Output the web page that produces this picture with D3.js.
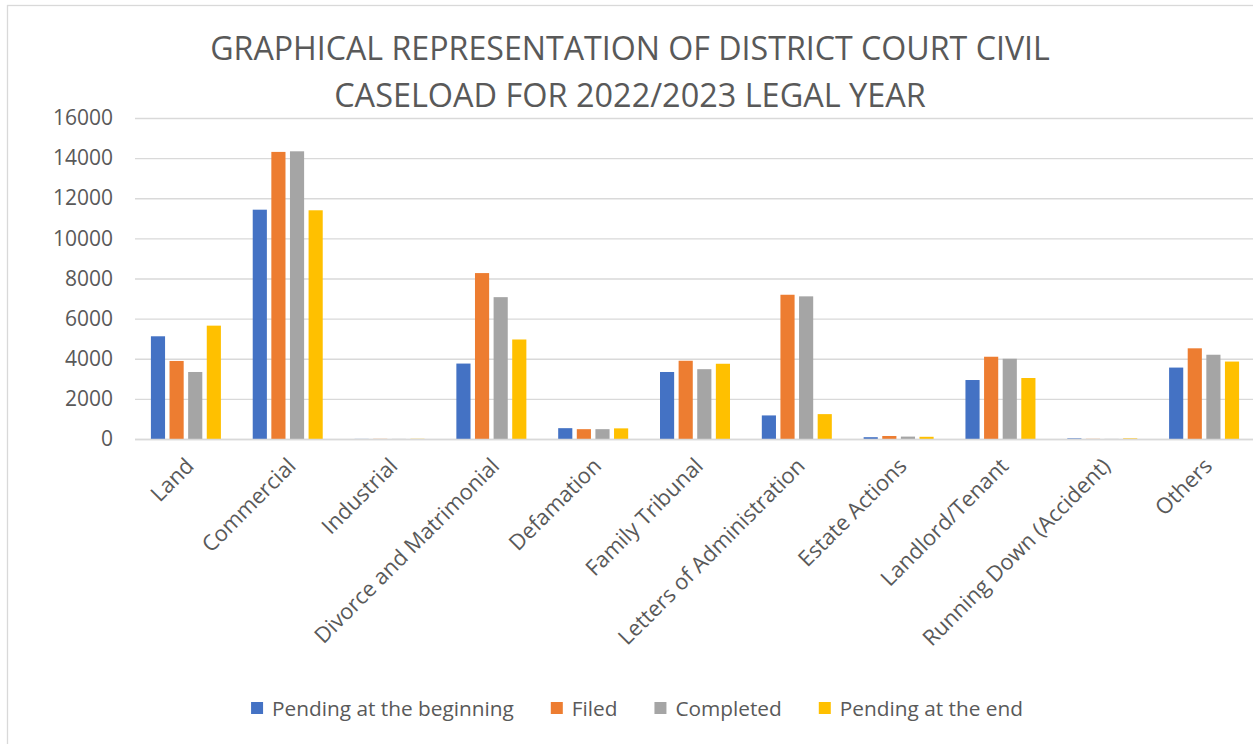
<!DOCTYPE html>
<html>
<head>
<meta charset="utf-8">
<script src="https://cdn.jsdelivr.net/npm/d3@7"></script>
<style>
  body { margin: 0; background: #fff; }
  svg { display: block; }
  text { font-family: "Open Sans", "Noto Sans", sans-serif; fill: #595959; }
</style>
</head>
<body>
<svg id="chart" width="1253" height="744"></svg>
<script>
// categories and series
const categories = ["Land", "Commercial", "Industrial", "Divorce and Matrimonial", "Defamation",
  "Family Tribunal", "Letters of Administration", "Estate Actions", "Landlord/Tenant",
  "Running Down (Accident)", "Others"];
const seriesNames = ["Pending at the beginning", "Filed", "Completed", "Pending at the end"];
const pendingStart = [5120, 11430, 5, 3760, 540, 3340, 1175, 90, 2940, 30, 3560];
const filed        = [3890, 14310, 8, 8270, 490, 3900, 7190, 150, 4100, 8, 4520];
const completed    = [3340, 14340, 5, 7070, 490, 3480, 7110, 120, 4000, 6, 4200];
const pendingEnd   = [5650, 11400, 10, 4960, 530, 3750, 1240, 110, 3040, 30, 3860];
const yTicks = [0, 2000, 4000, 6000, 8000, 10000, 12000, 14000, 16000];
const titleLines = ["GRAPHICAL REPRESENTATION OF DISTRICT COURT CIVIL",
  "CASELOAD FOR 2022/2023 LEGAL YEAR"];
const colors = ["#4472C4", "#ED7D31", "#A5A5A5", "#FFC000"];

const seriesValues = [pendingStart, filed, completed, pendingEnd];

const svg = d3.select("#chart");

// chart frame
svg.append("rect")
  .attr("x", 7.5).attr("y", 5.5)
  .attr("width", 1260).attr("height", 760)
  .attr("fill", "#fff").attr("stroke", "#d9d9d9").attr("stroke-width", 1.3);

const plot = { left: 135, right: 1255, top: 118, bottom: 439 };

const x0 = d3.scaleBand()
  .domain(categories)
  .range([plot.left, plot.right])
  .paddingInner(0).paddingOuter(0);

const x1 = d3.scaleBand()
  .domain(seriesNames)
  .range([-35, 35])
  .paddingInner(0.24);

const y = d3.scaleLinear()
  .domain([0, 16000])
  .range([plot.bottom, plot.top]);

// gridlines + y labels
const yAxis = svg.append("g").attr("transform", `translate(${plot.left},0)`)
  .call(d3.axisLeft(y).tickValues(yTicks).tickSize(-(plot.right - plot.left)).tickPadding(22).tickFormat(d3.format("d")));
yAxis.select(".domain").remove();
yAxis.selectAll(".tick line").attr("stroke", "#d9d9d9").attr("stroke-width", 1.3);
yAxis.selectAll(".tick text")
  .style("font-size", "21px").style("fill", "#595959")
  .style("font-family", "'Open Sans', sans-serif");

// bars
const groups = svg.append("g").selectAll("g")
  .data(categories)
  .join("g")
  .attr("transform", d => `translate(${x0(d) + x0.bandwidth() / 2},0)`);

groups.selectAll("rect")
  .data((c, i) => seriesNames.map((s, j) => ({ s, j, v: seriesValues[j][i] })))
  .join("rect")
  .attr("x", d => x1(d.s))
  .attr("width", x1.bandwidth())
  .attr("y", d => y(d.v))
  .attr("height", d => y(0) - y(d.v))
  .attr("fill", d => colors[d.j]);

// baseline
svg.append("line")
  .attr("x1", plot.left).attr("x2", plot.right)
  .attr("y1", y(0) + 0.5).attr("y2", y(0) + 0.5)
  .attr("stroke", "#d9d9d9").attr("stroke-width", 1.3);

// category labels
svg.append("g").selectAll("text")
  .data(categories)
  .join("text")
  .attr("transform", d => `translate(${x0(d) + x0.bandwidth() / 2 + 4},${plot.bottom + 23}) rotate(-45)`)
  .attr("text-anchor", "end")
  .attr("dy", "0.35em")
  .style("font-size", "21.8px")
  .text(d => d);

// title, fitted to the widths in the picture
const titleWidths = [840, 592];
svg.append("g").selectAll("text")
  .data(titleLines)
  .join("text")
  .attr("x", 630)
  .attr("y", (d, i) => 60 + i * 47)
  .attr("text-anchor", "middle")
  .style("font-size", "31px")
  .style("font-weight", 400)
  .text(d => d)
  .each(function(d, i) {
    const w = this.getComputedTextLength();
    const fs = 31 * titleWidths[i] / w;
    d3.select(this).style("font-size", Math.min(fs, 36) + "px");
  });

// legend
const legend = svg.append("g").attr("id", "legend");
const items = legend.selectAll("g")
  .data(seriesNames)
  .join("g");
items.append("rect")
  .attr("width", 12).attr("height", 12)
  .attr("y", 702)
  .attr("fill", (d, i) => colors[i]);
items.append("text")
  .attr("x", 21).attr("y", 716)
  .style("font-size", "20.8px")
  .text(d => d);

let cx = 0;
const gap = 37;
const widths = [];
items.each(function() {
  widths.push(21 + this.querySelector("text").getComputedTextLength());
});
const total = d3.sum(widths) + gap * (widths.length - 1);
cx = 637 - total / 2;
items.attr("transform", (d, i) => {
  const t = `translate(${cx},0)`;
  cx += widths[i] + gap;
  return t;
});
</script>
</body>
</html>
